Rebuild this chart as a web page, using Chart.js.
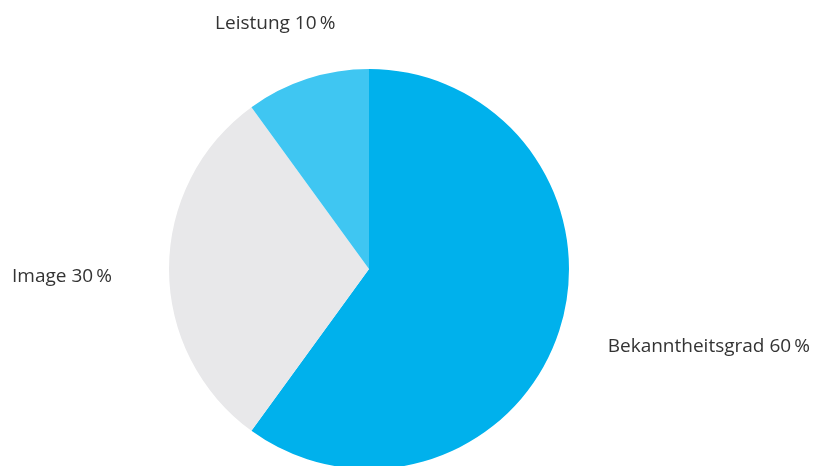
<!DOCTYPE html>
<html>
<head>
<meta charset="utf-8">
<script src="https://cdn.jsdelivr.net/npm/chart.js@4/dist/chart.umd.min.js"></script>
<style>
  html, body { margin: 0; padding: 0; background: #fff; overflow: hidden; }
  #wrap { width: 816px; height: 480px; position: relative; }
</style>
</head>
<body>
<div id="wrap"><canvas id="pieChart"></canvas></div>
<script>
// chart data
const categories = ['Bekanntheitsgrad', 'Image', 'Leistung'];
const shares = [60, 30, 10];
const sliceColors = ['#00b1ec', '#e8e8ea', '#3fc6f2'];

// label placement: extra distance beyond the rim and text alignment
const labelGap = [51, 57, 58];
const labelAlign = ['left', 'right', 'center'];

const ctx = document.getElementById('pieChart').getContext('2d');

const outsideLabels = {
  id: 'outsideLabels',
  afterDatasetsDraw(chart) {
    const meta = chart.getDatasetMeta(0);
    const c = chart.ctx;
    c.save();
    c.font = '19px "Open Sans", sans-serif';
    c.fillStyle = '#333333';
    c.textBaseline = 'middle';
    meta.data.forEach((arc, i) => {
      const p = arc.getProps(['x', 'y', 'startAngle', 'endAngle', 'outerRadius'], true);
      const mid = (p.startAngle + p.endAngle) / 2;
      const r = p.outerRadius + labelGap[i];
      let x = p.x + Math.cos(mid) * r;
      let y = p.y + Math.sin(mid) * r;
      if (i === 1) y += 8;
      if (i === 2) x -= 14;
      c.textAlign = labelAlign[i];
      c.fillText(categories[i] + ' ' + shares[i] + '\u2009%', x, y);
    });
    c.restore();
  }
};

const myChart = new Chart(ctx, {
  type: 'pie',
  data: {
    labels: categories,
    datasets: [{
      data: shares,
      backgroundColor: sliceColors,
      borderWidth: 0
    }]
  },
  options: {
    responsive: true,
    maintainAspectRatio: false,
    animation: false,
    layout: {
      padding: { top: 69, bottom: 11, left: 169, right: 247 }
    },
    plugins: {
      legend: { display: false },
      tooltip: { enabled: false }
    }
  },
  plugins: [outsideLabels]
});
</script>
</body>
</html>
